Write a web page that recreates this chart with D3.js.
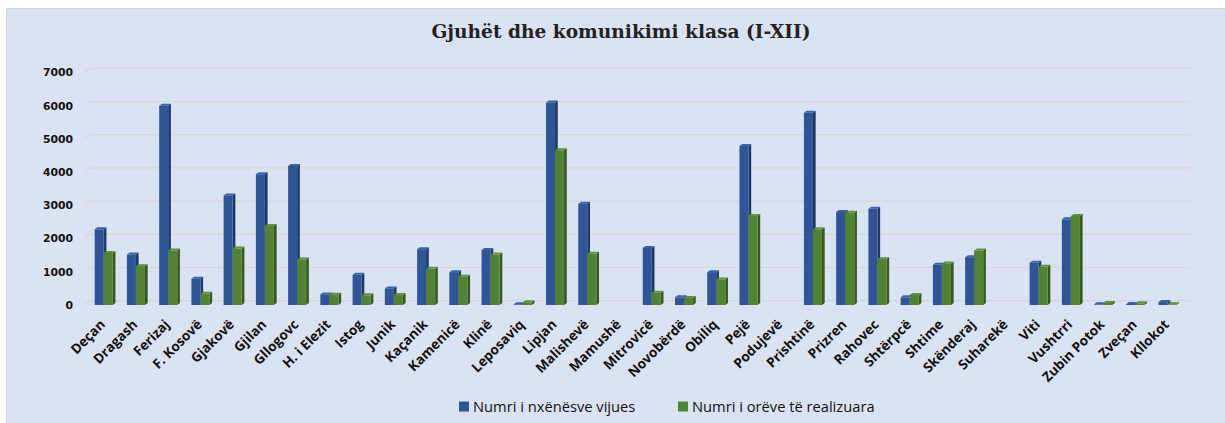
<!DOCTYPE html>
<head>
<meta charset="utf-8">
<script src="https://cdn.jsdelivr.net/npm/d3@7"></script>
<style>
body { margin: 0; background: #fff; }
</style>
</head>
<body>
<script>
// data (empty cells = no bars)
var cities = ["Deçan", "Dragash", "Ferizaj", "F. Kosovë", "Gjakovë", "Gjilan", "Gllogovc", "H. i Elezit",
  "Istog", "Junik", "Kaçanik", "Kamenicë", "Klinë", "Leposaviq", "Lipjan", "Malishevë", "Mamushë",
  "Mitrovicë", "Novobërdë", "Obiliq", "Pejë", "Podujevë", "Prishtinë", "Prizren", "Rahovec", "Shtërpcë",
  "Shtime", "Skënderaj", "Suharekë", "Viti", "Vushtrri", "Zubin Potok", "Zveçan", "Kllokot"];
var nxenes = [2280, 1520, 6000, 790, 3300, 3940, 4190, 320, 910, 500, 1680, 990, 1660, 20, 6100, 3050, null,
  1720, 230, 990, 4790, null, 5790, 2800, 2900, 230, 1210, 1440, null, 1270, 2580, 20, 30, 90];
var ore = [1570, 1170, 1640, 340, 1700, 2380, 1370, 310, 290, 300, 1090, 850, 1520, 80, 4660, 1540, null,
  370, 210, 770, 2680, null, 2280, 2780, 1380, 300, 1250, 1640, null, 1150, 2680, 60, 50, 20];
var yTicks = [0, 1000, 2000, 3000, 4000, 5000, 6000, 7000];
var seriesNames = ["Numri i nxënësve vijues", "Numri i orëve të realizuara"];

var width = 1225, height = 423;
var colors = [{front: "#2F5597", side: "#1F3864", top: "#3A63A8"},
              {front: "#548235", side: "#385723", top: "#5F9140"}];

var svg = d3.select("body").append("svg")
  .attr("width", width)
  .attr("height", height);

// chart area
svg.append("rect")
  .attr("x", 6.5).attr("y", 8.5)
  .attr("width", width).attr("height", height)
  .attr("fill", "#DAE3F3")
  .attr("stroke", "#D5D5D5");

svg.append("text")
  .attr("x", 621).attr("y", 38)
  .attr("text-anchor", "middle")
  .style("font-family", "'DejaVu Serif', serif")
  .style("font-weight", "bold")
  .style("font-size", "18.6px")
  .attr("fill", "#222")
  .text("Gjuhët dhe komunikimi klasa (I-XII)");

var x = d3.scaleBand().domain(cities).range([80.5, 1190.8]).paddingInner(0.44).paddingOuter(0.44);
var y = d3.scaleLinear().domain([0, 7000]).range([305, 72.6]);
var depth = 2.7, rise = 2, back = 4.3;

// gridlines on back wall
var grid = svg.append("g");
yTicks.forEach(function(t) {
  var yy = y(t);
  grid.append("path")
    .attr("d", "M85," + (yy - 1.5) + "L91.5," + (yy - back) + "L1190.7," + (yy - back))
    .attr("fill", "none")
    .attr("stroke", "#D8D8D2")
    .attr("stroke-width", 1.2);
});

// y axis labels
svg.append("g").selectAll("text")
  .data(yTicks).enter().append("text")
  .attr("x", 73).attr("y", function(d) { return y(d); })
  .attr("dy", "0.35em")
  .attr("text-anchor", "end")
  .style("font-family", "'DejaVu Sans', sans-serif")
  .style("font-weight", "bold")
  .style("font-size", "10.8px")
  .attr("fill", "#111")
  .text(function(d) { return d; });

var bw = x.bandwidth() / 2;
function drawBar(g, x0, v, c) {
  var y0 = y(0), y1 = y(v);
  g.append("path")
    .attr("d", "M" + (x0 + bw) + "," + y1 + "L" + (x0 + bw + depth) + "," + (y1 - rise) +
      "L" + (x0 + bw + depth) + "," + (y0 - rise) + "L" + (x0 + bw) + "," + y0 + "Z")
    .attr("fill", c.side);
  g.append("path")
    .attr("d", "M" + x0 + "," + y1 + "L" + (x0 + depth) + "," + (y1 - rise) +
      "L" + (x0 + bw + depth) + "," + (y1 - rise) + "L" + (x0 + bw) + "," + y1 + "Z")
    .attr("fill", c.top);
  g.append("rect")
    .attr("x", x0).attr("y", y1)
    .attr("width", bw).attr("height", y0 - y1)
    .attr("fill", c.front);
}

var bars = svg.append("g");
cities.forEach(function(c, i) {
  var g = bars.append("g");
  [nxenes[i], ore[i]].forEach(function(v, s) {
    if (v == null) return;
    drawBar(g, x(c) + s * bw, v, colors[s]);
  });
});

// x labels
svg.append("g").selectAll("text")
  .data(cities).enter().append("text")
  .attr("transform", function(d) { return "translate(" + (x(d) + bw - 1) + ",322) rotate(-45)"; })
  .attr("text-anchor", "end")
  .attr("dy", "0.35em")
  .style("font-family", "'Open Sans', sans-serif")
  .style("font-weight", "bold")
  .style("font-size", "13.5px")
  .attr("fill", "#111")
  .text(function(d) { return d; });

// legend
var leg = svg.append("g");
var legX = [459, 678];
seriesNames.forEach(function(n, i) {
  leg.append("rect")
    .attr("x", legX[i]).attr("y", 401.5)
    .attr("width", 10).attr("height", 10)
    .attr("fill", colors[i].front);
  leg.append("text")
    .attr("x", legX[i] + 14).attr("y", 411.5)
    .style("font-family", "'Open Sans', sans-serif")
    .style("font-size", "14.7px")
    .attr("fill", "#111")
    .text(n);
});
</script>
</body>
